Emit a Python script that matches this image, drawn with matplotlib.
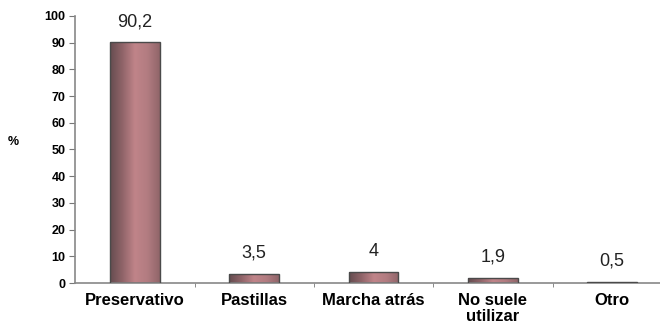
import numpy as np
import matplotlib.pyplot as plt
from matplotlib.colors import LinearSegmentedColormap

plt.rcParams['font.family'] = ['Liberation Sans', 'DejaVu Sans']

categories = ['Preservativo', 'Pastillas', 'Marcha atrás', 'No suele\nutilizar', 'Otro']
values = [90.2, 3.5, 4, 1.9, 0.5]
value_labels = ['90,2', '3,5', '4', '1,9', '0,5']
y_ticks = [0, 10, 20, 30, 40, 50, 60, 70, 80, 90, 100]

fig = plt.figure(figsize=(6.6, 3.31), dpi=100)
ax = fig.add_axes([0.114, 0.145, 0.895, 0.807])

x = np.arange(len(categories))
bars = ax.bar(x, values, width=0.415, color='none', edgecolor='#4a4a4a', linewidth=1.0, zorder=3)

# horizontal shading on each bar: dark left, light pink centre-right
cmap = LinearSegmentedColormap.from_list('bar', ['#654c4f', '#906469', '#c08489', '#b27c81', '#906569'])
grad = np.linspace(0, 1, 256).reshape(1, -1)
for b in bars:
    x0, w, h = b.get_x(), b.get_width(), b.get_height()
    im = ax.imshow(grad, cmap=cmap, aspect='auto', extent=[x0, x0 + w, 0, h], zorder=2)
    im.set_clip_path(b)

for xi, v, lab in zip(x, values, value_labels):
    ax.text(xi, v + 4.5, lab, ha='center', va='bottom', fontsize=13, color='#222222')

ax.set_xlim(-0.5, 4.45)
ax.set_ylim(0, 100)
ax.set_yticks(y_ticks)
ax.set_yticklabels([str(t) for t in y_ticks], fontsize=9, fontweight='bold')
ax.set_xticks(x)
ax.set_xticklabels(categories, fontsize=12, fontweight='bold', linespacing=1.1)
ax.tick_params(axis='x', length=0, pad=7)
ax.set_xticks(np.arange(0.5, 4.5, 1), minor=True)
ax.tick_params(axis='x', which='minor', length=3, color='#777777')
ax.tick_params(axis='y', length=4, color='#777777', pad=3)

for s in ['top', 'right']:
    ax.spines[s].set_visible(False)
for s in ['left', 'bottom']:
    ax.spines[s].set_color('#888888')
    ax.spines[s].set_linewidth(1.2)

fig.text(0.02, 0.57, '%', fontsize=9, fontweight='bold', ha='center', va='center')

fig.savefig('out.png', dpi=100)
